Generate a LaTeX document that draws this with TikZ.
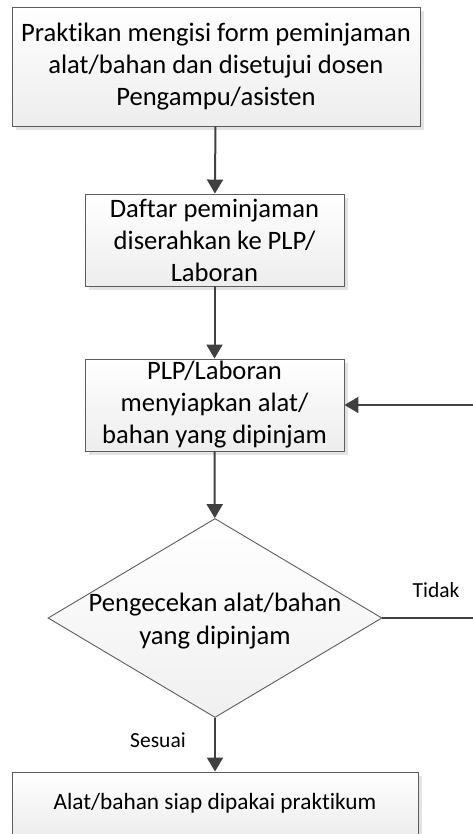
\documentclass[tikz,border=0pt]{standalone}
\usepackage{fontspec}
\setmainfont{Carlito}[RawFeature={-liga}]
\usepackage{xcolor}
\usetikzlibrary{arrows.meta}
\usetikzlibrary{shapes.geometric}
\usetikzlibrary{shadows}
\definecolor{garis}{HTML}{404040}

\begin{document}
\begin{tikzpicture}[x=1pt,y=-1pt,
      kotak/.style={rectangle,draw=garis!85,line width=0.9pt,top color=white,bottom color=black!7,
        drop shadow={shadow xshift=4pt,shadow yshift=-4pt,fill=black!11,opacity=1},
        align=center,inner sep=0pt,font=\fontsize{26.6}{32}\selectfont},
      keputusan/.style={diamond,draw=garis!85,line width=0.9pt,top color=white,bottom color=black!6,
        minimum width=334pt,minimum height=199pt,inner sep=0pt},
      panah/.style={draw=garis,line width=2pt,-{Triangle[length=14pt,width=16pt]}},
      ket/.style={font=\fontsize{21.5}{24}\selectfont}]
      \useasboundingbox (0,0) rectangle (473,834);

      \node[kotak,minimum width=408pt,minimum height=119pt] (isi) at (216,66.5)
        {Praktikan mengisi form peminjaman\\alat/bahan dan disetujui dosen\\Pengampu/asisten};
      \node[kotak,minimum width=259pt,minimum height=92pt] (daftar) at (214.5,240)
        {Daftar peminjaman\\diserahkan ke PLP/\\Laboran};
      \node[kotak,minimum width=259pt,minimum height=92pt] (siap) at (214.5,405)
        {PLP/Laboran\\menyiapkan alat/\\bahan yang dipinjam};
      \node[keputusan] (cek) at (215,618) {};
      \node[align=center,inner sep=0pt,font=\fontsize{26.6}{33}\selectfont] (cektext) at (215,621)
        {Pengecekan alat/bahan\\yang dipinjam};
      \node[kotak,minimum width=406pt,minimum height=63pt,font=\fontsize{23.3}{28}\selectfont] (pakai) at (215,803.5)
        {Alat/bahan siap dipakai praktikum};

      \coordinate (kanan) at (480,618);

      \draw[panah] (isi) -- (daftar);
      \draw[panah] (daftar) -- (siap);
      \draw[panah] (siap) -- (cek);
      \draw[panah] (cek) -- (pakai);
      \draw[panah] (cek.east) -- (kanan) |- (siap.east);

      \node[ket] (tidak) at (436,590) {Tidak};
      \node[ket] (sesuai) at (158,740) {Sesuai};
    \end{tikzpicture}
\end{document}
